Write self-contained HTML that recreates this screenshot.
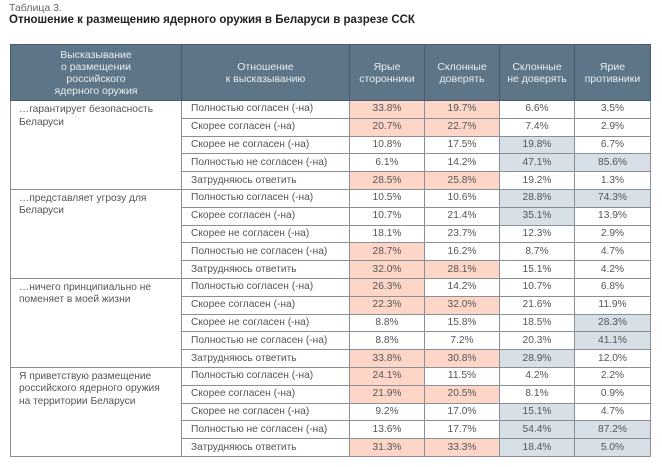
<!DOCTYPE html>
<html><head><meta charset="utf-8"><style>
body{margin:0;width:662px;height:467px;background:#fff;font-family:"Liberation Sans",sans-serif;color:#555;position:relative;overflow:hidden}
.cap{position:absolute;left:9px;top:2px;font-size:10.5px;color:#666}
.ttl{position:absolute;left:9px;top:14px;font-size:11.5px;font-weight:bold;color:#222}
table{position:absolute;left:10px;top:44px;border-collapse:collapse;table-layout:fixed;font-size:10.2px}
td,th{border:1px solid #8a8f94;padding:0;height:16.8px;line-height:12px}
th{background:#5d7587;color:#e8eef2;font-weight:normal;height:55px;font-size:10.5px;text-align:center;border-color:#4a5a66}
td{text-align:center}
td.s{text-align:left;padding-left:8px;vertical-align:top;padding-top:3px;line-height:12.5px}
td.a{text-align:left;padding-left:9px}
.p{background:#fdd6c8}.b{background:#d6e0e6}
</style></head><body>
<div class="cap">Таблица 3.</div>
<div class="ttl">Отношение к размещению ядерного оружия в Беларуси в разрезе ССК</div>
<table>
<colgroup><col style="width:171px"><col style="width:168px"><col style="width:75px"><col style="width:75px"><col style="width:75px"><col style="width:76px"></colgroup>
<tr><th>Высказывание<br>о размещении<br>российского<br>ядерного оружия</th><th>Отношение<br>к высказыванию</th><th>Ярые<br>сторонники</th><th>Склонные<br>доверять</th><th>Склонные<br>не доверять</th><th>Ярие<br>противники</th></tr>
<tr><td class="s" rowspan="5">…гарантирует безопасность<br>Беларуси</td><td class="a">Полностью согласен (-на)</td><td class="p">33.8%</td><td class="p">19.7%</td><td>6.6%</td><td>3.5%</td></tr>
<tr><td class="a">Скорее согласен (-на)</td><td class="p">20.7%</td><td class="p">22.7%</td><td>7.4%</td><td>2.9%</td></tr>
<tr><td class="a">Скорее не согласен (-на)</td><td>10.8%</td><td>17.5%</td><td class="b">19.8%</td><td>6.7%</td></tr>
<tr><td class="a">Полностью не согласен (-на)</td><td>6.1%</td><td>14.2%</td><td class="b">47.1%</td><td class="b">85.6%</td></tr>
<tr><td class="a">Затрудняюсь ответить</td><td class="p">28.5%</td><td class="p">25.8%</td><td>19.2%</td><td>1.3%</td></tr>
<tr><td class="s" rowspan="5">…представляет угрозу для<br>Беларуси</td><td class="a">Полностью согласен (-на)</td><td>10.5%</td><td>10.6%</td><td class="b">28.8%</td><td class="b">74.3%</td></tr>
<tr><td class="a">Скорее согласен (-на)</td><td>10.7%</td><td>21.4%</td><td class="b">35.1%</td><td>13.9%</td></tr>
<tr><td class="a">Скорее не согласен (-на)</td><td>18.1%</td><td>23.7%</td><td>12.3%</td><td>2.9%</td></tr>
<tr><td class="a">Полностью не согласен (-на)</td><td class="p">28.7%</td><td>16.2%</td><td>8.7%</td><td>4.7%</td></tr>
<tr><td class="a">Затрудняюсь ответить</td><td class="p">32.0%</td><td class="p">28.1%</td><td>15.1%</td><td>4.2%</td></tr>
<tr><td class="s" rowspan="5">…ничего принципиально не<br>поменяет в моей жизни</td><td class="a">Полностью согласен (-на)</td><td class="p">26.3%</td><td>14.2%</td><td>10.7%</td><td>6.8%</td></tr>
<tr><td class="a">Скорее согласен (-на)</td><td class="p">22.3%</td><td class="p">32.0%</td><td>21.6%</td><td>11.9%</td></tr>
<tr><td class="a">Скорее не согласен (-на)</td><td>8.8%</td><td>15.8%</td><td>18.5%</td><td class="b">28.3%</td></tr>
<tr><td class="a">Полностью не согласен (-на)</td><td>8.8%</td><td>7.2%</td><td>20.3%</td><td class="b">41.1%</td></tr>
<tr><td class="a">Затрудняюсь ответить</td><td class="p">33.8%</td><td class="p">30.8%</td><td class="b">28.9%</td><td>12.0%</td></tr>
<tr><td class="s" rowspan="5">Я приветствую размещение<br>российского ядерного оружия<br>на территории Беларуси</td><td class="a">Полностью согласен (-на)</td><td class="p">24.1%</td><td>11.5%</td><td>4.2%</td><td>2.2%</td></tr>
<tr><td class="a">Скорее согласен (-на)</td><td class="p">21.9%</td><td class="p">20.5%</td><td>8.1%</td><td>0.9%</td></tr>
<tr><td class="a">Скорее не согласен (-на)</td><td>9.2%</td><td>17.0%</td><td class="b">15.1%</td><td>4.7%</td></tr>
<tr><td class="a">Полностью не согласен (-на)</td><td>13.6%</td><td>17.7%</td><td class="b">54.4%</td><td class="b">87.2%</td></tr>
<tr><td class="a">Затрудняюсь ответить</td><td class="p">31.3%</td><td class="p">33.3%</td><td class="b">18.4%</td><td class="b">5.0%</td></tr>
</table>
</body></html>
